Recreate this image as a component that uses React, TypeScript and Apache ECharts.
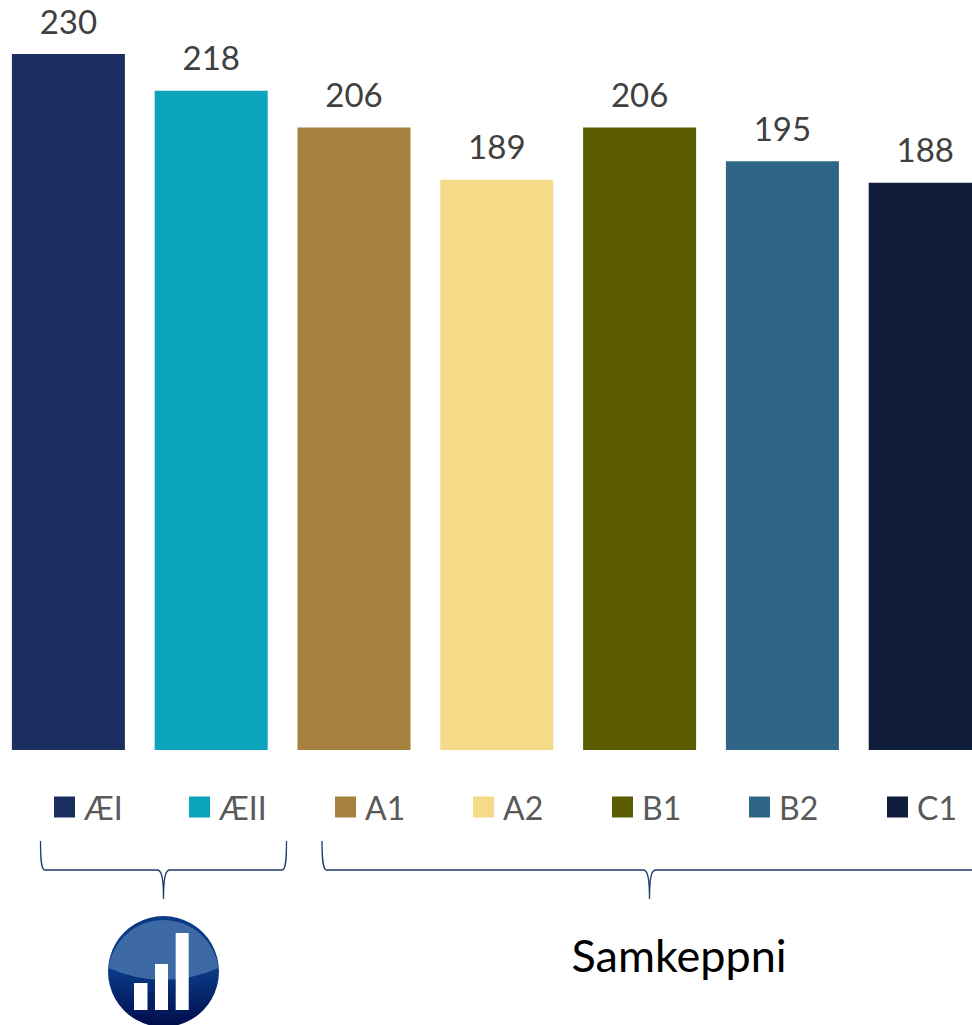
import React, { useEffect, useRef } from "react";
import * as echarts from "echarts";

const categories = ["ÆI", "ÆII", "A1", "A2", "B1", "B2", "C1"];
const values = [230, 218, 206, 189, 206, 195, 188];
const colors = ["#1A2F5F", "#0CA3BC", "#A5833F", "#F5DA87", "#5B5C00", "#2F6587", "#101D3B"];
const legendLefts = [54, 189, 335, 473, 612, 749, 887];
const FONT = "Lato, Carlito, sans-serif";

echarts.graphic.registerShape(
  "braceLeft",
  echarts.graphic.extendPath(
    "M40.5 841 C40.5 858 41 870 45 870 L157 870 C161 870 163.5 875 163.5 899 C163.5 875 166 870 170 870 L282 870 C286 870 286.5 858 286.5 841",
    {}
  )
);
echarts.graphic.registerShape(
  "braceRight",
  echarts.graphic.extendPath(
    "M322 841 C322 858 322.5 870 327 870 L643 870 C647 870 649.5 875 649.5 899 C649.5 875 652 870 656 870 L975 870",
    {}
  )
);
echarts.graphic.registerShape(
  "logoShine",
  echarts.graphic.extendPath(
    "M108.5 968 A55.5 55.5 0 0 1 218.5 968 Q164 992 108.5 968 Z",
    {}
  )
);

export default function App() {
  const ref = useRef<HTMLDivElement>(null);
  useEffect(() => {
    document.body.style.margin = "0";
    const chart = echarts.init(ref.current!, undefined, { renderer: "svg" });
    chart.setOption({
      animation: false,
      backgroundColor: "#ffffff",
      grid: { left: -3, top: 54, width: 999.6, height: 696, containLabel: false, outerBoundsMode: "none" },
      xAxis: {
        type: "category",
        data: categories,
        axisLine: { show: false },
        axisTick: { show: false },
        axisLabel: { show: false },
      },
      yAxis: { type: "value", min: 3, max: 230, show: false, splitLine: { show: false } },
      legend: categories.map((name, i) => ({
        data: [name],
        left: legendLefts[i],
        top: 791,
        selectedMode: false,
        padding: 0,
        itemWidth: 21,
        itemHeight: 21,
        icon: "rect",
        textStyle: { color: "#595959", fontSize: 32, fontFamily: FONT, padding: [0, 0, 0, 4] },
      })),
      series: categories.map((name, i) => ({
        name,
        type: "bar",
        stack: "all",
        barWidth: 113,
        itemStyle: { color: colors[i] },
        label: {
          show: true,
          position: "top",
          distance: 17,
          color: "#404040",
          fontSize: 33,
          fontFamily: FONT,
        },
        data: values.map((v, j) => (j === i ? v : null)),
      })),
      graphic: [
        { type: "braceLeft", silent: true, style: { fill: "none", stroke: "#1F3A6E", lineWidth: 1.3 } },
        { type: "braceRight", silent: true, style: { fill: "none", stroke: "#1F3A6E", lineWidth: 1.3 } },
        {
          type: "circle",
          silent: true,
          shape: { cx: 163.5, cy: 971.5, r: 55.5 },
          style: {
            fill: new echarts.graphic.LinearGradient(0, 0, 0, 1, [
              { offset: 0.5, color: "#0A3A86" },
              { offset: 1, color: "#000B4A" },
            ]),
          },
        },
        { type: "logoShine", silent: true, style: { fill: "#3D69A5" } },
        { type: "rect", silent: true, shape: { x: 134, y: 983, width: 13.5, height: 27 }, style: { fill: "#ffffff" } },
        { type: "rect", silent: true, shape: { x: 155, y: 964, width: 13, height: 46 }, style: { fill: "#ffffff" } },
        { type: "rect", silent: true, shape: { x: 175.7, y: 933, width: 13, height: 77 }, style: { fill: "#ffffff" } },
        {
          type: "text",
          silent: true,
          x: 679,
          y: 955,
          style: {
            text: "Samkeppni",
            fill: "#000000",
            font: `45px ${FONT}`,
            textAlign: "center",
            textVerticalAlign: "middle",
          },
        },
      ],
    });
    return () => chart.dispose();
  }, []);
  return <div ref={ref} style={{ width: 972, height: 1025 }} />;
}
